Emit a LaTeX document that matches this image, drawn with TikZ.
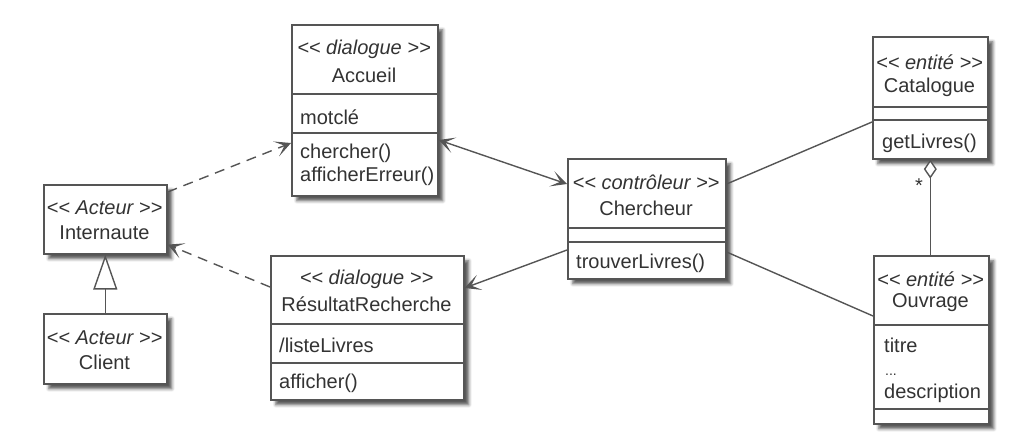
\documentclass[tikz,border=0pt]{standalone}
\usepackage{fontspec}
\setmainfont{Liberation Sans}
\usetikzlibrary{arrows.meta,shadows.blur}
\definecolor{umlline}{HTML}{555555}
\definecolor{umltext}{HTML}{333333}

\begin{document}
\begin{tikzpicture}[x=1pt, y=-1pt,
    cls/.style={draw=umlline, line width=1.6pt, fill=white, anchor=north west, inner sep=0pt,
        blur shadow={shadow xshift=5pt, shadow yshift=-5pt, shadow blur radius=3pt, shadow opacity=65}},
    stereo/.style={font=\fontsize{20}{23}\selectfont\itshape, text=umltext, inner sep=0pt},
    lbl/.style={font=\fontsize{20}{23}\selectfont, text=umltext, inner sep=0pt},
    attr/.style={lbl, anchor=west},
    sep/.style={draw=umlline, line width=1.6pt},
    link/.style={draw=umlline, line width=1.4pt},
    tip/.style={-{Stealth[length=16pt, width=16pt, inset=9pt]}},
    dashlink/.style={dash pattern=on 10pt off 7pt},
]

    \useasboundingbox (0,0) rectangle (1032,446);

    % Acteurs
    \node[cls, minimum width=123pt, minimum height=69pt] (intern) at (43,184) {};
    \node[stereo] (intern-st) at (104.5,208) {<{}< Acteur >{}>};
    \node[lbl] (intern-nm) at (104.5,233) {Internaute};

    \node[cls, minimum width=123pt, minimum height=70pt] (client) at (43,313) {};
    \node[stereo] (client-st) at (104.5,338) {<{}< Acteur >{}>};
    \node[lbl] (client-nm) at (104.5,362) {Client};

    % Dialogues
    \node[cls, minimum width=146pt, minimum height=171pt] (accueil) at (291,24) {};
    \draw[sep] ([yshift=-70pt]accueil.north west) -- ([yshift=-70pt]accueil.north east);
    \draw[sep] ([yshift=-109pt]accueil.north west) -- ([yshift=-109pt]accueil.north east);
    \node[stereo] (accueil-st) at (364,49) {<{}< dialogue >{}>};
    \node[lbl] (accueil-nm) at (364,75) {Accueil};
    \node[attr] (motcle) at (300,117) {motclé};
    \node[attr] (chercher) at (300,153) {chercher()};
    \node[attr] (erreur) at (300,176) {afficherErreur()};

    \node[cls, minimum width=193pt, minimum height=144pt] (result) at (270,255) {};
    \draw[sep] ([yshift=-69pt]result.north west) -- ([yshift=-69pt]result.north east);
    \draw[sep] ([yshift=-108pt]result.north west) -- ([yshift=-108pt]result.north east);
    \node[stereo] (result-st) at (366.5,279) {<{}< dialogue >{}>};
    \node[lbl] (result-nm) at (366.5,304) {RésultatRecherche};
    \node[attr] (liste) at (279,345) {/listeLivres};
    \node[attr] (afficher) at (279,383) {afficher()};

    % Controleur
    \node[cls, minimum width=158pt, minimum height=120pt] (cherch) at (567,158) {};
    \draw[sep] ([yshift=-70pt]cherch.north west) -- ([yshift=-70pt]cherch.north east);
    \draw[sep] ([yshift=-84pt]cherch.north west) -- ([yshift=-84pt]cherch.north east);
    \node[stereo] (cherch-st) at (646,182) {<{}< contrôleur >{}>};
    \node[lbl] (cherch-nm) at (646,208) {Chercheur};
    \node[attr] (trouver) at (576,263) {trouverLivres()};

    % Entites
    \node[cls, minimum width=115pt, minimum height=122pt] (catal) at (872,36) {};
    \draw[sep] ([yshift=-71pt]catal.north west) -- ([yshift=-71pt]catal.north east);
    \draw[sep] ([yshift=-84pt]catal.north west) -- ([yshift=-84pt]catal.north east);
    \node[stereo] (catal-st) at (929.5,62) {<{}< entité >{}>};
    \node[lbl] (catal-nm) at (929.5,87) {Catalogue};
    \node[attr] (getlivres) at (882,143) {getLivres()};

    \node[cls, minimum width=115pt, minimum height=168pt] (ouvr) at (873,255) {};
    \draw[sep] ([yshift=-70pt]ouvr.north west) -- ([yshift=-70pt]ouvr.north east);
    \draw[sep] ([yshift=-154pt]ouvr.north west) -- ([yshift=-154pt]ouvr.north east);
    \node[stereo] (ouvr-st) at (930.5,279) {<{}< entité >{}>};
    \node[lbl] (ouvr-nm) at (930.5,303) {Ouvrage};
    \node[attr] (titre) at (884,345) {titre};
    \node[attr, anchor=base west, font=\fontsize{14}{16}\selectfont] (etc) at (885,375) {...};
    \node[attr] (descr) at (884,393) {description};

    % Liens
    \draw[link, dashlink, tip] ([yshift=-8pt]intern.north east) -- ([yshift=-119pt]accueil.north west);
    \draw[link, {Stealth[length=16pt, width=16pt, inset=9pt]}-{Stealth[length=16pt, width=16pt, inset=9pt]}]
        ([yshift=-116pt]accueil.north east) -- ([yshift=-26pt]cherch.north west);
    \draw[link, tip] ([yshift=-92pt]cherch.north west) -- ([yshift=-33pt]result.north east);
    \draw[link, dashlink, tip] ([yshift=-32pt]result.north west) -- ([yshift=10pt]intern.south east);
    \draw[link] ([yshift=-26pt]cherch.north east) -- ([yshift=-86pt]catal.north west);
    \draw[link] ([yshift=-94pt]cherch.north east) -- ([yshift=-61pt]ouvr.north west);
    \draw[link, {Diamond[open, fill=white, length=19pt, width=13pt]}-] (catal.south) -- (catal.south |- ouvr.north);
    \node[lbl] (star) at (919,186) {*};
    \draw[link, -{Triangle[open, fill=white, length=35pt, width=24pt]}] (client.north) -- (intern.south);

\end{tikzpicture}
\end{document}
